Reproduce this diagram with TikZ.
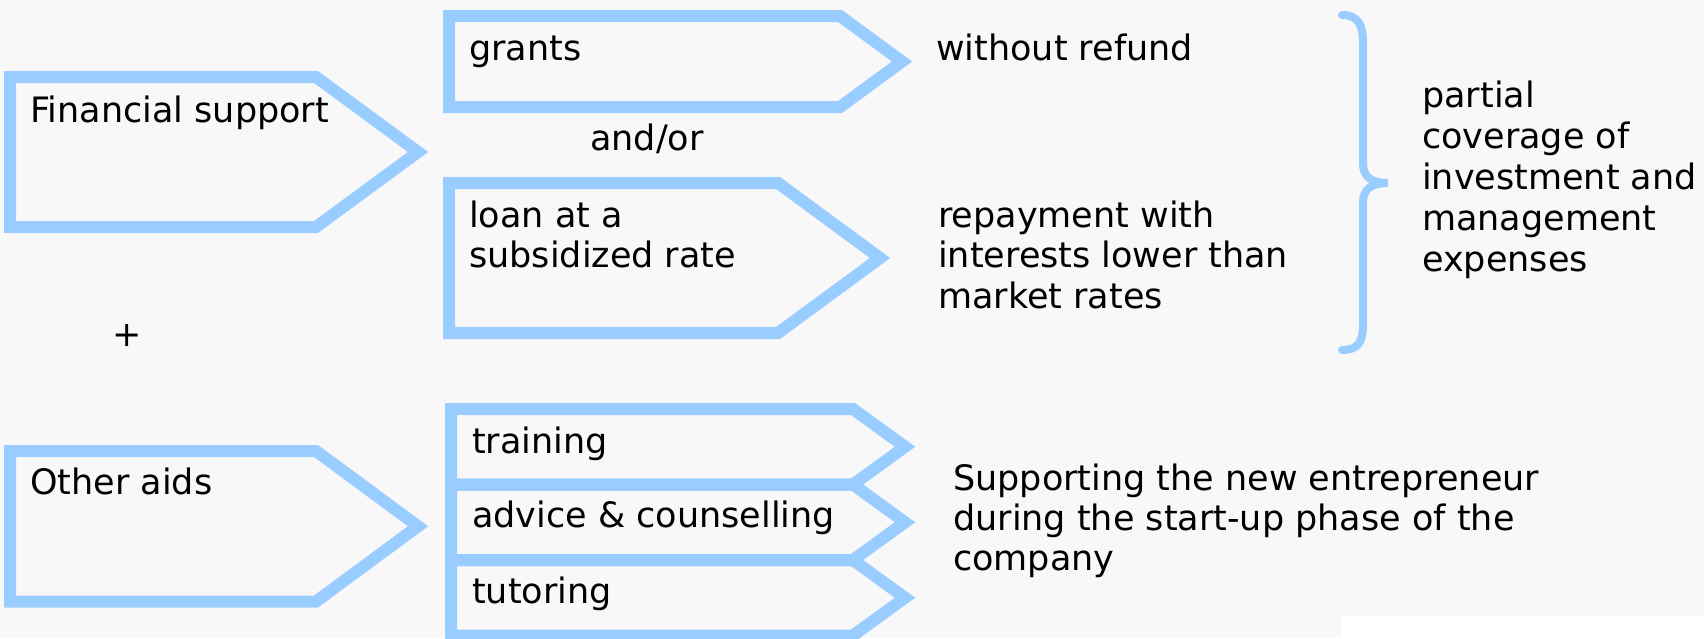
\documentclass[tikz,border=0pt]{standalone}
\usepackage{fontspec}
\setmainfont{DejaVu Sans}
\definecolor{boxblue}{RGB}{153,204,255}
\definecolor{paper}{RGB}{248,248,248}

\begin{document}
\begin{tikzpicture}
    [ x=1pt, y=-1pt,
      font=\fontsize{35}{41}\selectfont,
      pent/.style={draw=boxblue, line width=12pt, line join=miter},
      brace/.style={draw=boxblue, line width=8pt, line cap=round},
      lbl/.style={anchor=base west, inner sep=0pt, align=left},
    ]
    \fill[paper] (0,0) rectangle (1704,638);
    \fill[white] (1341,616) rectangle (1704,638);
    \useasboundingbox (0,0) rectangle (1704,638);

    % left x / top y / bottom y / corner x / tip x
    \foreach \xl / \yt / \yb / \xc / \xt in {10/77/227/316/418, 10/451/601.5/316/418,
                                              449/16/107/840/902, 449/183/333/778/880,
                                              451/409/484.5/853/905, 451/484.5/560/853/905,
                                              451/560/635.5/853/905} {
        \draw[pent] (\xl,\yt) -- (\xc,\yt) -- (\xt,{(\yt+\yb)/2})
            -- (\xc,\yb) -- (\xl,\yb) -- cycle;
    }

    \node[lbl] (fin) at (30,122) {Financial support};
    \node[lbl] (other) at (30,494) {Other aids};
    \node (plus) at (127,336) {+};

    % multi-line labels sit on their last line
    \node[lbl] (grants) at (469,60) {grants};
    \node[lbl] (andor) at (590,150) {and/or};
    \node[lbl, font=\fontsize{35}{40}\selectfont] (loan) at (469,267)
        {loan at a\\subsidized rate};
    \node[lbl] (training) at (472,453) {training};
    \node[lbl] (advice) at (472,527) {advice \& counselling};
    \node[lbl] (tutor) at (472,603) {tutoring};

    \node[lbl] (refund) at (936,60) {without refund};
    \node[lbl, font=\fontsize{35}{40.5}\selectfont] (repay) at (938,308)
        {repayment with\\interests lower than\\market rates};
    \node[lbl, font=\fontsize{35}{40}\selectfont] (startup) at (953,570)
        {Supporting the new entrepreneur\\during the start-up phase of the\\company};

    % curly brace
    \draw[brace] (1342,15) .. controls (1358,15) and (1363,25) .. (1363,42)
        -- (1363,163) .. controls (1363,176) and (1370,183) .. (1388,183)
        .. controls (1370,183) and (1363,190) .. (1363,203)
        -- (1363,325) .. controls (1363,342) and (1358,350) .. (1342,350);
    \node[lbl] (cover) at (1422,271)
        {partial\\coverage of\\investment and\\management\\expenses};
\end{tikzpicture}
\end{document}
